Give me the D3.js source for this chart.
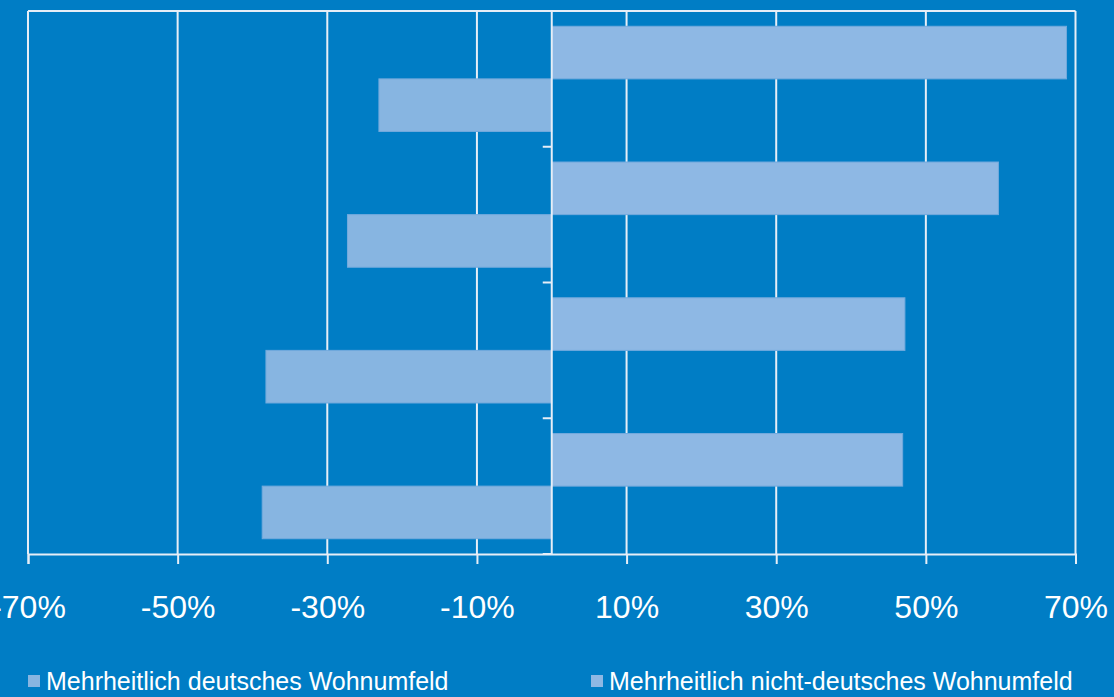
<!DOCTYPE html>
<html>
<head>
<meta charset="utf-8">
<script src="https://cdn.jsdelivr.net/npm/d3@7"></script>
<style>
  html, body { margin: 0; padding: 0; background: #007dc5; }
  svg { display: block; }
</style>
</head>
<body>
<div id="chart"></div>
<script>
// data (top to bottom)
var categories = ["Gruppe 1", "Gruppe 2", "Gruppe 3", "Gruppe 4"];
var seriesNames = ["Mehrheitlich deutsches Wohnumfeld", "Mehrheitlich nicht-deutsches Wohnumfeld"];
var deutsch = [-23.1, -27.3, -38.2, -38.7];
var nichtDeutsch = [68.8, 59.7, 47.2, 46.9];
var xTicks = [-70, -50, -30, -10, 10, 30, 50, 70];
var colors = ["#87b5e1", "#8eb8e4"];

var width = 1114,
    height = 697;

var plotLeft = 28, plotRight = 1075.5, plotTop = 11, plotBottom = 554;

var svg = d3.select("#chart")
  .append("svg")
    .attr("width", width)
    .attr("height", height);

svg.append("rect")
    .attr("width", width)
    .attr("height", height)
    .attr("fill", "#007dc5");

var x = d3.scaleLinear().domain([-70, 70]).range([plotLeft, plotRight]);

var y = d3.scaleBand()
    .domain(categories)
    .range([plotTop, plotBottom])
    .paddingInner(0.225)
    .paddingOuter(0.1125);

// upper bar = nicht-deutsch, lower bar = deutsch
var ySub = d3.scaleBand()
    .domain([1, 0])
    .range([0, y.bandwidth()]);

// gridlines
svg.append("g")
  .selectAll("line")
  .data(xTicks)
  .enter().append("line")
    .attr("x1", function(d) { return x(d); })
    .attr("x2", function(d) { return x(d); })
    .attr("y1", plotTop)
    .attr("y2", plotBottom)
    .attr("stroke", "#e6eef7")
    .attr("stroke-width", 2);

// top border
svg.append("line")
    .attr("x1", plotLeft).attr("x2", plotRight)
    .attr("y1", plotTop).attr("y2", plotTop)
    .attr("stroke", "#e6eef7")
    .attr("stroke-width", 2);

// bars
var rows = categories.map(function(c, i) {
  return [{cat: c, s: 0, v: deutsch[i]}, {cat: c, s: 1, v: nichtDeutsch[i]}];
});

svg.append("g")
  .selectAll("g")
  .data(rows)
  .enter().append("g")
    .attr("transform", function(d) { return "translate(0," + y(d[0].cat) + ")"; })
  .selectAll("rect")
  .data(function(d) { return d; })
  .enter().append("rect")
    .attr("x", function(d) { return x(Math.min(0, d.v)); })
    .attr("y", function(d) { return ySub(d.s); })
    .attr("width", function(d) { return Math.abs(x(d.v) - x(0)); })
    .attr("height", ySub.bandwidth())
    .attr("fill", function(d) { return colors[d.s]; })
    .attr("stroke", "#72aadd")
    .attr("stroke-width", 1);

// vertical axis at zero with category ticks
svg.append("line")
    .attr("x1", x(0)).attr("x2", x(0))
    .attr("y1", plotTop).attr("y2", plotBottom)
    .attr("stroke", "#e6eef7")
    .attr("stroke-width", 2);

var yb = d3.scaleLinear().domain([0, categories.length]).range([plotTop, plotBottom]);
svg.append("g")
  .selectAll("line")
  .data(d3.range(categories.length + 1))
  .enter().append("line")
    .attr("x1", x(0) - 9).attr("x2", x(0))
    .attr("y1", function(d) { return yb(d); })
    .attr("y2", function(d) { return yb(d); })
    .attr("stroke", "#e6eef7")
    .attr("stroke-width", 2);

// x axis
var xAxis = d3.axisBottom(x)
    .tickValues(xTicks)
    .tickSize(10)
    .tickPadding(31)
    .tickFormat(function(d) { return d + "%"; });

var gx = svg.append("g")
    .attr("transform", "translate(0," + plotBottom + ")")
    .call(xAxis);

gx.select(".domain")
    .attr("stroke", "#e6eef7")
    .attr("stroke-width", 2);
gx.selectAll(".tick line")
    .attr("stroke", "#e6eef7")
    .attr("stroke-width", 2);
gx.selectAll(".tick text")
    .attr("fill", "#ffffff")
    .attr("font-family", "Liberation Sans, Arial, sans-serif")
    .attr("font-size", 32);

// legend
var legendX = [28, 591];
var legend = svg.append("g")
  .selectAll("g")
  .data(seriesNames)
  .enter().append("g")
    .attr("transform", function(d, i) { return "translate(" + legendX[i] + ",675)"; });

legend.append("rect")
    .attr("width", 12)
    .attr("height", 12)
    .attr("fill", function(d, i) { return colors[i]; });

legend.append("text")
    .attr("x", 18)
    .attr("y", 15)
    .attr("fill", "#ffffff")
    .attr("font-family", "Liberation Sans, Arial, sans-serif")
    .attr("font-size", 25)
    .text(function(d) { return d; });
</script>
</body>
</html>
